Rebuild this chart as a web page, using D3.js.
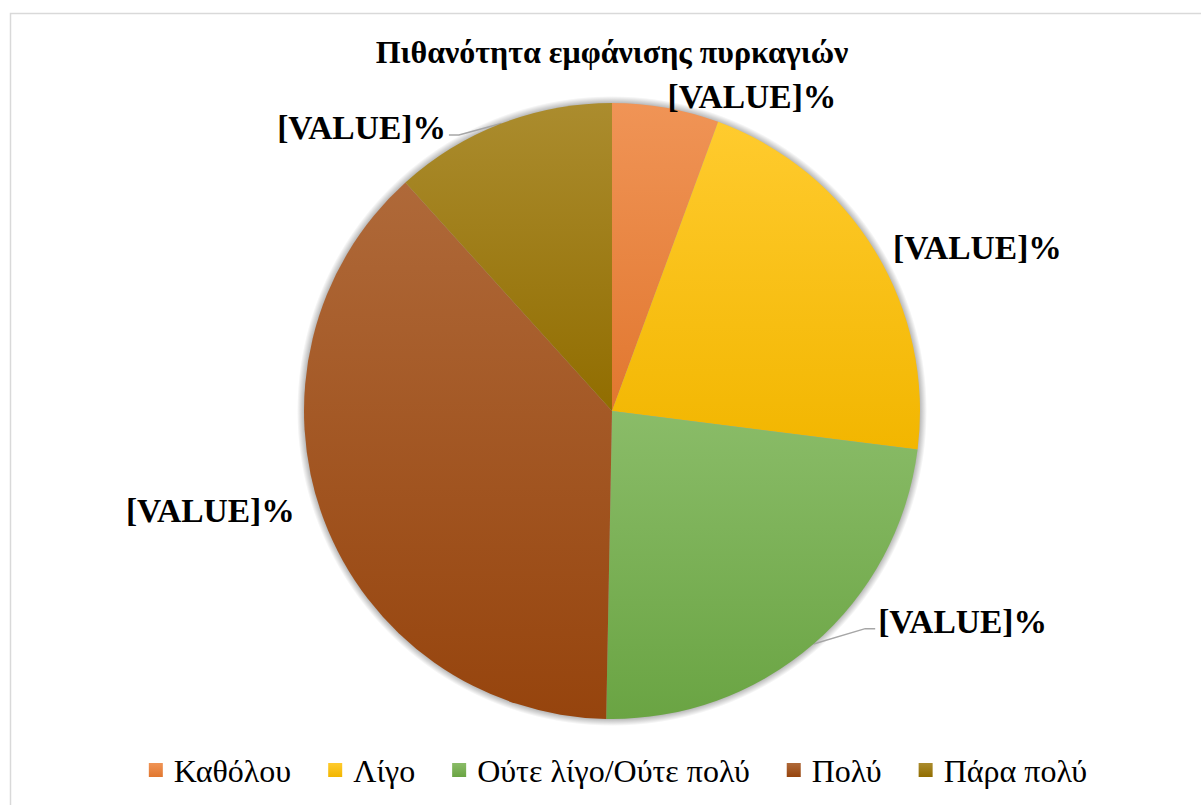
<!DOCTYPE html>
<html>
<head>
<meta charset="utf-8">
<script src="https://cdn.jsdelivr.net/npm/d3@7"></script>
<style>
  body { margin: 0; background: #fff; }
  svg { display: block; }
</style>
</head>
<body>
<svg id="chart" width="1201" height="805"></svg>
<script>
// data
const categories = ['Καθόλου', 'Λίγο', 'Ούτε λίγο/Ούτε πολύ', 'Πολύ', 'Πάρα πολύ']
const values = [5.6, 21.4, 23.3, 38.0, 11.7]
const labelTexts = ['[VALUE]%', '[VALUE]%', '[VALUE]%', '[VALUE]%', '[VALUE]%']
const baseColors = ['#ED7D31', '#FFC000', '#70AD47', '#9E480E', '#997300']
const title = 'Πιθανότητα εμφάνισης πυρκαγιών'

// label placement (angle in degrees clockwise from top, distance from centre)
const labelAngles = [24, 66, 121, 256, 318.5]
const labelDistances = [344, 400, 409, 414, 378]

const width = 1201
const height = 805
const cx = 612
const cy = 411
const radius = 308
const fontFamily = 'Liberation Serif'

// text widths through a canvas
const ctx = document.createElement('canvas').getContext('2d')
function textWidth(str, font) {
  ctx.font = font
  return ctx.measureText(str).width
}

const svg = d3.select('#chart')

// outer frame of the chart area
svg.append('rect')
  .attr('x', 10.5)
  .attr('y', 13.5)
  .attr('width', width + 20)
  .attr('height', height + 20)
  .attr('fill', '#fff')
  .attr('stroke', '#D9D9D9')
  .attr('stroke-width', 1.5)

const defs = svg.append('defs')

// soft shadow ring round the pie, made with a radial gradient
const shadowPad = 7
const sg = defs.append('radialGradient')
  .attr('id', 'pieShadow')
  .attr('gradientUnits', 'userSpaceOnUse')
  .attr('cx', 0).attr('cy', 0)
  .attr('r', radius + shadowPad)
const inner = (radius - 2) / (radius + shadowPad)
sg.append('stop').attr('offset', inner).attr('stop-color', '#000').attr('stop-opacity', 0.35)
sg.append('stop').attr('offset', 1).attr('stop-color', '#000').attr('stop-opacity', 0)

// vertical gradient per slice: lighter on top, a bit darker below
baseColors.forEach((c, i) => {
  const g = defs.append('linearGradient')
    .attr('id', `grad${i}`)
    .attr('x1', 0).attr('y1', 0).attr('x2', 0).attr('y2', 1)
  g.append('stop').attr('offset', '0%').attr('stop-color', d3.interpolateRgb(c, '#fff')(0.18))
  g.append('stop').attr('offset', '100%').attr('stop-color', d3.interpolateRgb(c, '#000')(0.05))
})

// title
svg.append('text')
  .attr('x', cx)
  .attr('y', 63)
  .attr('text-anchor', 'middle')
  .style('font-family', fontFamily)
  .style('font-weight', 'bold')
  .style('font-size', '32px')
  .text(title)

const pie = d3.pie().sort(null).value(d => d)
const arcs = pie(values)
const arc = d3.arc().innerRadius(0).outerRadius(radius)

const pieGroup = svg.append('g')
  .attr('transform', `translate(${cx}, ${cy})`)

pieGroup.append('circle')
  .attr('r', radius + shadowPad)
  .attr('fill', 'url(#pieShadow)')

// leader lines (drawn below slices)
const leaderGroup = pieGroup.append('g')

pieGroup.append('g')
  .selectAll('path')
  .data(arcs)
  .join('path')
  .attr('d', arc)
  .attr('fill', (d, i) => `url(#grad${i})`)

// data labels
const labelFont = `bold 33.5px "${fontFamily}"`
const labelGroup = svg.append('g')
arcs.forEach((d, i) => {
  const a = labelAngles[i] * Math.PI / 180
  const lx = cx + Math.sin(a) * labelDistances[i]
  const ly = cy - Math.cos(a) * labelDistances[i]
  labelGroup.append('text')
    .attr('x', lx)
    .attr('y', ly + 11)
    .attr('text-anchor', 'middle')
    .style('font-family', fontFamily)
    .style('font-weight', 'bold')
    .style('font-size', '33.5px')
    .text(labelTexts[i])
  const w = textWidth(labelTexts[i], labelFont)

  // leader line from label side to the arc at mid angle
  const mid = (d.startAngle + d.endAngle) / 2
  const px = Math.sin(mid) * radius
  const py = -Math.cos(mid) * radius
  const rightSide = lx > cx
  const sx = (rightSide ? lx - w / 2 - 3 : lx + w / 2 + 3) - cx
  const sy = ly + 7 - cy
  const dist = Math.hypot(px - sx, py - sy)
  if (dist > 28) {
    const kx = sx + (rightSide ? -10 : 10)
    leaderGroup.append('path')
      .attr('d', `M${sx},${sy}L${kx},${sy}L${px},${py}`)
      .attr('fill', 'none')
      .attr('stroke', '#A6A6A6')
      .attr('stroke-width', 1.5)
  }
})

// legend
const legendFont = `32px "${fontFamily}"`
const legendGap = 37
const legend = svg.append('g')
let xPos = 0
categories.forEach((c, i) => {
  const item = legend.append('g')
  item.append('rect')
    .attr('width', 14).attr('height', 14)
    .attr('y', -19)
    .attr('fill', `url(#grad${i})`)
  item.append('text')
    .attr('x', 25)
    .attr('y', 0)
    .style('font-family', fontFamily)
    .style('font-size', '32px')
    .text(c)
  const w = 25 + textWidth(c, legendFont)
  item.attr('transform', `translate(${xPos}, 0)`)
  xPos += w + legendGap
})
const legendWidth = xPos - legendGap
legend.attr('transform', `translate(${618 - legendWidth / 2}, 782)`)
</script>
</body>
</html>
